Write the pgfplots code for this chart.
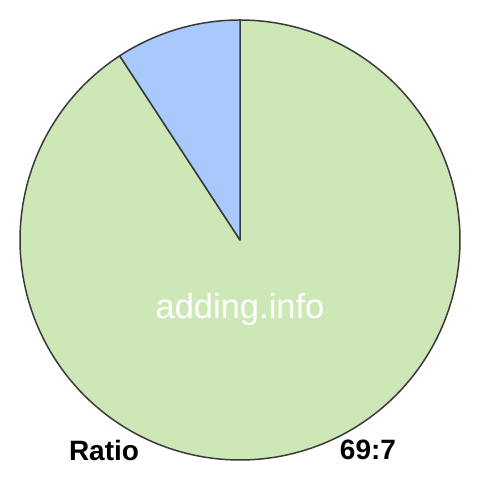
\documentclass[border=0pt]{standalone}
\usepackage{fontspec}
\setmainfont{Liberation Sans}
\usepackage{pgfplots}
\pgfplotsset{compat=1.18}

\definecolor{greenslice}{HTML}{CDE7B7}
\definecolor{blueslice}{HTML}{A9C8FB}
\definecolor{edge}{HTML}{3A3A3A}

% ratio values
\def\valA{69}
\def\valB{7}

\begin{document}
\begin{tikzpicture}
\pgfmathsetmacro{\total}{\valA+\valB}
\pgfmathsetmacro{\angB}{90+360*\valB/\total}
\begin{axis}[
    scale only axis,
    width=480bp, height=480bp,
    xmin=-240, xmax=240, ymin=-240, ymax=240,
    hide axis,
    clip=false,
]
\path (axis cs:-240,-240) rectangle (axis cs:240,240);

% green slice (69)
\addplot[fill=greenslice, draw=edge, line width=1.5pt, line join=round, domain=\angB:450, samples=200]
    ({220*cos(x)},{220*sin(x)}) -- (axis cs:0,0) -- cycle;
% blue slice (7)
\addplot[fill=blueslice, draw=edge, line width=1.5pt, line join=round, domain=90:\angB, samples=40]
    ({220*cos(x)},{220*sin(x)}) -- (axis cs:0,0) -- cycle;

\node[text=white, font=\fontsize{34.5bp}{36bp}\selectfont] at (axis cs:0,-70) {adding.info};
\node[font=\fontsize{28bp}{30bp}\selectfont\bfseries] at (axis cs:-136,-210) {Ratio};
\node[font=\fontsize{28bp}{30bp}\selectfont\bfseries] at (axis cs:128,-210) {69:7};
\end{axis}
\end{tikzpicture}
\end{document}
